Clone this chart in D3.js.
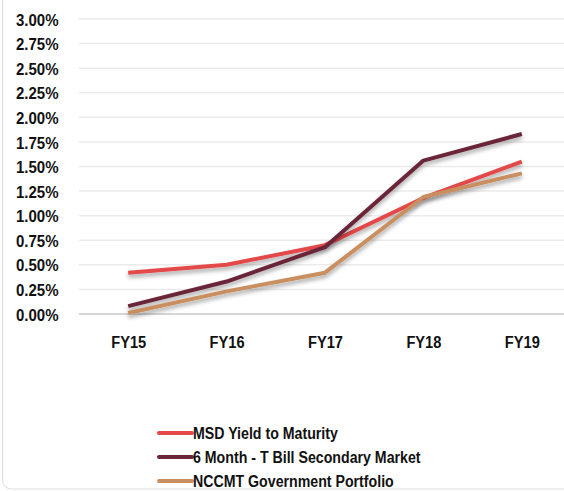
<!DOCTYPE html>
<html><head><meta charset="utf-8">
<script src="https://cdn.jsdelivr.net/npm/d3@7"></script>
<style>
html,body{margin:0;padding:0;background:#fff;}
svg text{font-family:"Liberation Sans",Arial,sans-serif;font-weight:bold;fill:#111;}
</style></head>
<body>
<svg id="c" width="564" height="491"></svg>
<script>
const categories = ["FY15","FY16","FY17","FY18","FY19"];
const msdYield = [0.42, 0.50, 0.70, 1.18, 1.55];
const tBill6m = [0.08, 0.33, 0.68, 1.56, 1.83];
const nccmt = [0.01, 0.23, 0.42, 1.19, 1.43];
const yTicks = [0,0.25,0.5,0.75,1,1.25,1.5,1.75,2,2.25,2.5,2.75,3];
const seriesNames = ["MSD Yield to Maturity","6 Month - T Bill Secondary Market","NCCMT Government Portfolio"];
const seriesColors = ["#e4484a","#6b2638","#c98f60"];
const seriesData = [msdYield, tBill6m, nccmt];

const svg = d3.select("#c");
const defs = svg.append("defs");
const f = defs.append("filter").attr("id","sh").attr("x","-10%").attr("y","-30%").attr("width","120%").attr("height","180%");
f.append("feDropShadow").attr("dx",0).attr("dy",3).attr("stdDeviation",2).attr("flood-color","#000").attr("flood-opacity",0.35);

svg.append("rect").attr("x",2.5).attr("y",-20).attr("width",620).attr("height",509)
  .attr("rx",9).attr("fill","none").attr("stroke","#dcdcdc").attr("stroke-width",1);

const x = d3.scalePoint().domain(categories).range([79, 571]).padding(0.5);
const y = d3.scaleLinear().domain([0,3]).range([314, 19]);

function fitScale(sel, target){
  const n = sel.node();
  const len = n.getComputedTextLength();
  const s = len > 0 ? target/len : 1;
  return s;
}

const grid = svg.append("g");
grid.selectAll("line").data(yTicks).join("line")
  .attr("x1",79).attr("x2",600)
  .attr("y1",d=>y(d)).attr("y2",d=>y(d))
  .attr("stroke",d=>d===0?"#d6d6d6":"#ebebeb").attr("stroke-width",d=>d===0?2:1.5);

const yAxis = d3.axisLeft(y).tickValues(yTicks).tickFormat(d=>d.toFixed(2)+"%").tickSize(0).tickPadding(0);
const ga = svg.append("g").attr("transform","translate(58.5,0)").call(yAxis);
ga.select(".domain").remove();
const yt = ga.selectAll("text").style("font-size","17px").attr("dy","0.36em");
const sy = fitScale(yt.filter(d=>d===2), 42.6);
yt.attr("transform",`scale(${sy},1)`);

const xAxis = d3.axisBottom(x).tickSize(0).tickPadding(0);
const gx = svg.append("g").attr("transform","translate(0,336)").call(xAxis);
gx.select(".domain").remove();
const xt = gx.selectAll("text").style("font-size","17px").attr("dy","0.71em");
const sx = fitScale(xt.filter(d=>d==="FY15"), 35);
xt.attr("transform",`scale(${sx},1)`);

const line = d3.line().x((d,i)=>x(categories[i])).y(d=>y(d));
seriesData.forEach((s,k)=>{
  svg.append("path").datum(s).attr("d",line).attr("fill","none")
    .attr("stroke",seriesColors[k]).attr("stroke-width",4).attr("stroke-linejoin","round")
    .attr("filter","url(#sh)");
});

const leg = svg.append("g");
const legTexts = [];
seriesNames.forEach((n,k)=>{
  const yy = 433 + k*24;
  leg.append("line").attr("x1",159).attr("x2",192).attr("y1",yy).attr("y2",yy)
    .attr("stroke",seriesColors[k]).attr("stroke-width",4).attr("stroke-linecap","round");
  const t = leg.append("g").attr("transform",`translate(193,${yy})`)
    .append("text").attr("dy","0.36em").style("font-size","17px").text(n);
  legTexts.push(t);
});
const sl = fitScale(legTexts[0], 145);
legTexts.forEach(t=>t.attr("transform",`scale(${sl},1)`));
</script>
</body></html>
